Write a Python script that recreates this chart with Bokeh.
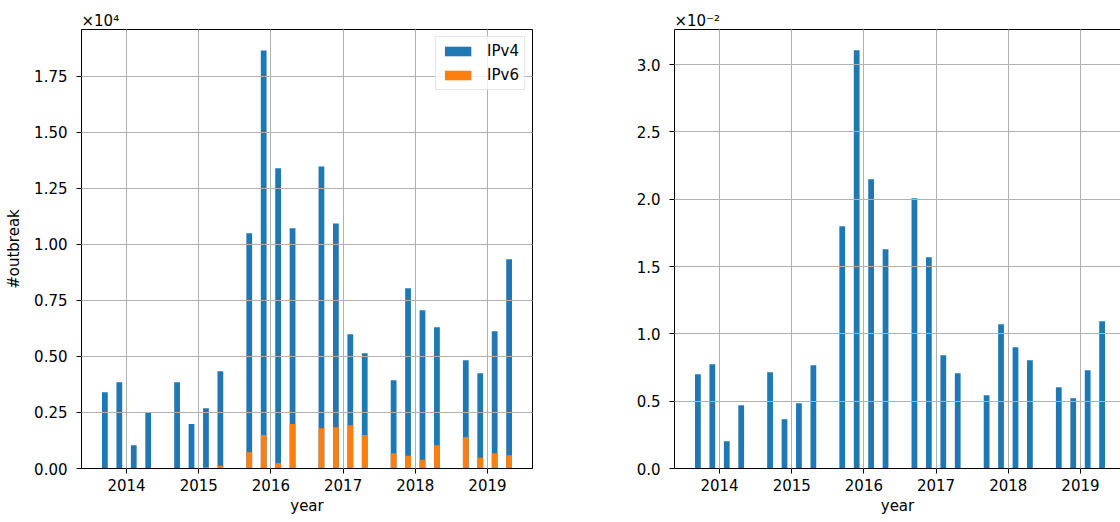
from bokeh.plotting import figure
from bokeh.layouts import row
from bokeh.models import FixedTicker, Range1d, LinearAxis, Title
from bokeh.embed import file_html
from bokeh.resources import INLINE

# ---- data ----
periods = [2013.7, 2013.9, 2014.1, 2014.3,
           2014.7, 2014.9, 2015.1, 2015.3,
           2015.7, 2015.9, 2016.1, 2016.3,
           2016.7, 2016.9, 2017.1, 2017.3,
           2017.7, 2017.9, 2018.1, 2018.3,
           2018.7, 2018.9, 2019.1, 2019.3]
ipv4 = [3400, 3850, 1040, 2480,
        3850, 1980, 2690, 4340,
        10490, 18640, 13390, 10710,
        13470, 10930, 5990, 5140,
        3940, 8040, 7060, 6300,
        4830, 4250, 6120, 9330]
ipv6 = [0, 0, 0, 0,
        0, 0, 60, 120,
        730, 1490, 240, 1980,
        1800, 1840, 1930, 1490,
        680, 570, 390, 1040,
        1410, 480, 680, 590]
ratio = [0.00700, 0.00775, 0.00203, 0.00470,
         0.00715, 0.00366, 0.00485, 0.00767,
         0.01800, 0.03106, 0.02149, 0.01629,
         0.02007, 0.01569, 0.00842, 0.00708,
         0.00545, 0.01072, 0.00901, 0.00804,
         0.00604, 0.00522, 0.00730, 0.01094]

year_ticks = [2014, 2015, 2016, 2017, 2018, 2019]
left_ticks = [0, 2500, 5000, 7500, 10000, 12500, 15000, 17500]
left_tick_labels = ["0.00", "0.25", "0.50", "0.75", "1.00", "1.25", "1.50", "1.75"]
right_ticks = [0, 0.005, 0.010, 0.015, 0.020, 0.025, 0.030]
right_tick_labels = ["0.0", "0.5", "1.0", "1.5", "2.0", "2.5", "3.0"]
left_multiplier = "×10⁴"
right_multiplier = "×10⁻²"

BLUE = "#1f77b4"
ORANGE = "#ff7f0e"
FONT = "DejaVu Sans"
FS = "15px"
BAR_W = 0.08


def style(p, yticks, ylabels):
    xt = FixedTicker(ticks=year_ticks)
    yt = FixedTicker(ticks=yticks)
    p.xaxis.ticker = xt
    p.xgrid.ticker = xt
    p.yaxis.ticker = yt
    p.ygrid.ticker = yt
    p.yaxis.major_label_overrides = {t: l for t, l in zip(yticks, ylabels)}
    for ax in (p.xaxis, p.yaxis):
        ax.axis_line_color = "black"
        ax.axis_line_width = 1
        ax.major_tick_line_color = "black"
        ax.major_tick_out = 5
        ax.major_tick_in = 0
        ax.minor_tick_line_color = None
        ax.major_label_text_font = FONT
        ax.major_label_text_font_size = FS
        ax.major_label_text_color = "black"
        ax.axis_label_text_font = FONT
        ax.axis_label_text_font_size = FS
        ax.axis_label_text_font_style = "normal"
        ax.axis_label_text_color = "black"
    p.xaxis.major_label_standoff = 5
    p.xaxis.axis_label_standoff = 3
    p.yaxis.major_label_standoff = 9
    p.yaxis.axis_label_standoff = 8
    for g in (p.xgrid, p.ygrid):
        g.grid_line_color = "#b0b0b0"
        g.grid_line_width = 1
        g.level = "guide"
    p.background_fill_color = "white"
    p.border_fill_color = "white"


def mult_title(text):
    return Title(text=text, align="left", text_font=FONT, text_font_size=FS,
                 text_font_style="normal", text_color="black", standoff=0,
                 offset=0)


# ---- left chart ----
p1 = figure(width=552, height=522, output_backend="svg", toolbar_location=None,
            x_range=Range1d(2013.376, 2019.624), y_range=Range1d(0, 19580),
            min_border_left=81, min_border_right=20, min_border_top=29,
            min_border_bottom=54, x_axis_label="year", y_axis_label="#outbreak",
            title=None)
p1.vbar(x=periods, top=ipv4, width=BAR_W, bottom=0, fill_color=BLUE,
        line_color=None, legend_label="IPv4")
p1.vbar(x=periods, top=ipv6, width=BAR_W, bottom=0, fill_color=ORANGE,
        line_color=None, legend_label="IPv6")
style(p1, left_ticks, left_tick_labels)
p1.outline_line_color = "black"
p1.outline_line_width = 1
p1.outline_line_alpha = 1
p1.add_layout(mult_title(left_multiplier), "above")

lg = p1.legend[0]
lg.location = "top_right"
lg.margin = 7
lg.padding = 5
lg.spacing = 6
lg.glyph_width = 33
lg.glyph_height = 12
lg.label_height = 18
lg.label_standoff = 13
lg.label_text_font = FONT
lg.label_text_font_size = FS
lg.label_text_color = "black"
lg.border_line_color = "#cccccc"
lg.border_line_width = 1
lg.background_fill_color = "white"
lg.background_fill_alpha = 0.8

# ---- right chart ----
p2 = figure(width=568, height=522, output_backend="svg", toolbar_location=None,
            x_range=Range1d(2013.376, 2019.555), y_range=Range1d(0, 0.03261),
            min_border_left=122, min_border_right=0, min_border_top=29,
            min_border_bottom=54, x_axis_label="year", title=None)
p2.vbar(x=periods, top=ratio, width=BAR_W, bottom=0, fill_color=BLUE,
        line_color=None)
style(p2, right_ticks, right_tick_labels)
p2.outline_line_color = None
top_axis = LinearAxis(ticker=FixedTicker(ticks=[]), major_label_text_font_size="0px",
                      major_tick_line_color=None, minor_tick_line_color=None,
                      axis_line_color="black", axis_line_width=1,
                      major_label_standoff=0, axis_label_standoff=0)
p2.add_layout(top_axis, "above")
p2.add_layout(mult_title(right_multiplier), "above")

layout = row(p1, p2)
open("out.html", "w").write(file_html(layout, INLINE))
